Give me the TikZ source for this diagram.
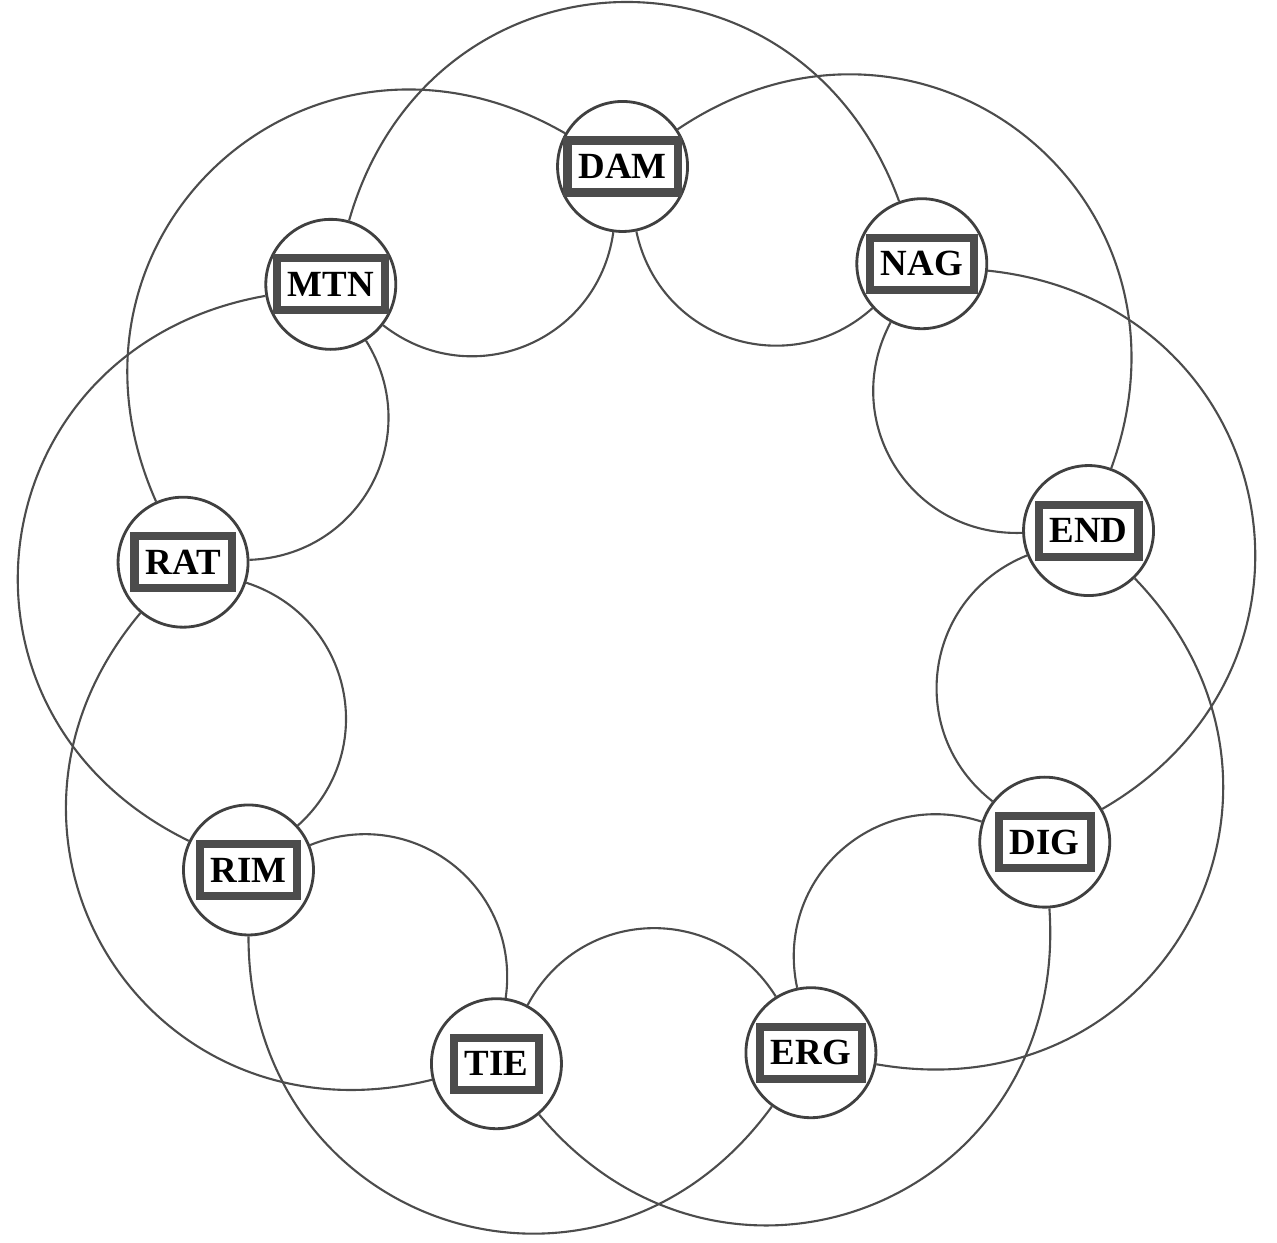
\documentclass[tikz,border=0pt]{standalone}
\usepackage{fontspec}
\setmainfont{Liberation Serif}
\usetikzlibrary{arrows.meta,positioning}

\begin{document}
\begin{tikzpicture}[font=\fontsize{10.5}{12}\selectfont\bfseries]
\tikzstyle{ring}=[circle,draw=black!75,line width=0.8pt,fill=white,minimum size=1.3cm,inner sep=0pt]
\tikzstyle{stamp}=[draw=black!70,line width=2.3pt,minimum height=0.52cm,inner xsep=0.11cm,inner ysep=0pt]
\tikzstyle{petal}=[draw=black!70,line width=0.6pt]
\tikzstyle{sweep}=[draw=black!70,line width=0.6pt]
\useasboundingbox (-6.386,-6.158) rectangle (6.384,6.262);
% nine words round the ring
\foreach \n/\a in {DAM/92,NAG/52,END/12,DIG/-28,ERG/-68,TIE/-108,RIM/-148,RAT/172,MTN/132} {
  \node[ring] (\n) at (\a:4.6) {};
  \node[stamp] (l\n) at (\n) {\n};
}
% neighbours, bent inwards
\foreach \s/\t in {DAM/NAG,NAG/END,END/DIG,DIG/ERG,ERG/TIE,TIE/RIM,RIM/RAT,RAT/MTN,MTN/DAM}
  \draw[petal] (\s) to[bend right=60,looseness=1.15] (\t);
% every second one, bent outwards
\foreach \s/\t in {DAM/END,NAG/DIG,END/ERG,DIG/TIE,ERG/RIM,TIE/RAT,RIM/MTN,RAT/DAM,MTN/NAG}
  \draw[sweep] (\s) to[bend left=72,looseness=1.36] (\t);
\end{tikzpicture}
\end{document}
